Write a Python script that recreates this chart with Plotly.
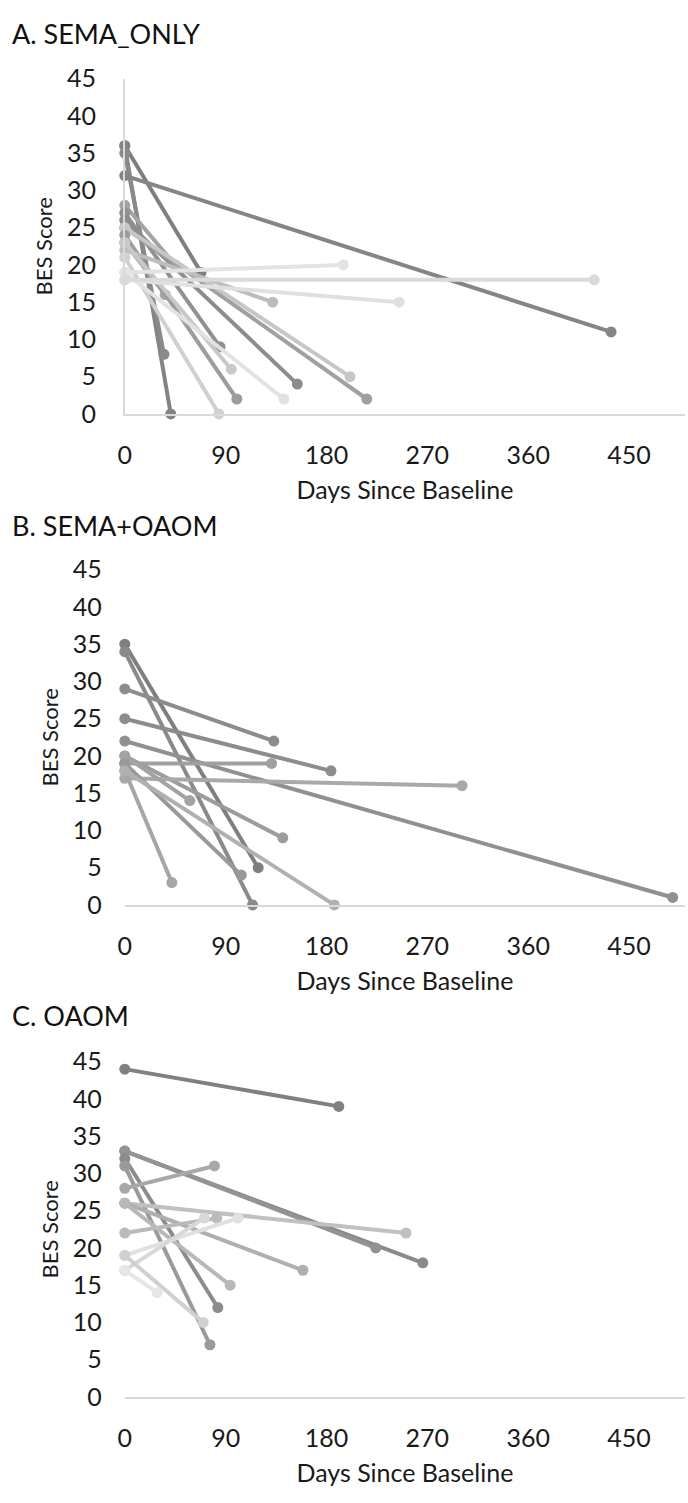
import plotly.graph_objects as go

W, H = 688, 1503

# ---------------- data ----------------
panel_titles = ["A. SEMA_ONLY", "B. SEMA+OAOM", "C. OAOM"]
x_ticks = [0, 90, 180, 270, 360, 450]
y_ticks = [0, 5, 10, 15, 20, 25, 30, 35, 40, 45]

# Panel A: SEMA_ONLY (baseline at day 0 -> follow-up)
A_start_score = [36, 36, 35, 32, 28, 27, 26, 25, 25, 23, 24, 22, 23, 21, 19, 19, 18, 18]
A_end_days    = [68, 41, 35, 434, 45, 85, 154, 216, 201, 36, 100, 132, 95, 84, 142, 195, 245, 419]
A_end_score   = [19, 0, 8, 11, 20, 9, 4, 2, 5, 16, 2, 15, 6, 0, 2, 20, 15, 18]

# Panel B: SEMA+OAOM
B_start_score = [35, 34, 29, 25, 22, 20, 19, 17, 20, 18, 19, 18]
B_end_days    = [119, 114, 133, 184, 489, 141, 131, 301, 58, 42, 104, 187]
B_end_score   = [5, 0, 22, 18, 1, 9, 19, 16, 14, 3, 4, 0]

# Panel C: OAOM
C_start_score = [44, 33, 33, 32, 31, 28, 26, 26, 26, 22, 19, 17, 19, 17]
C_end_days    = [191, 266, 224, 83, 76, 80, 251, 159, 94, 82, 101, 71, 70, 29]
C_end_score   = [39, 18, 20, 12, 7, 31, 22, 17, 15, 24, 24, 24, 10, 14]

# styles (greys of each participant line)
A_shades = ["#7f7f7f", "#838383", "#8a8a8a", "#858585", "#a3a3a3", "#909090", "#8c8c8c",
            "#a0a0a0", "#c6c6c6", "#a8a8a8", "#9c9c9c", "#bdbdbd", "#c8c8c8", "#d0d0d0",
            "#e2e2e2", "#e3e3e3", "#e0e0e0", "#dadada"]
B_shades = ["#7f7f7f", "#8a8a8a", "#8c8c8c", "#8c8c8c", "#909090", "#9c9c9c", "#a0a0a0",
            "#a9a9a9", "#a3a3a3", "#a6a6a6", "#999999", "#b0b0b0"]
C_shades = ["#808080", "#8a8a8a", "#939393", "#8c8c8c", "#9a9a9a", "#a8a8a8", "#c0c0c0",
            "#afafaf", "#b8b8b8", "#bababa", "#e0e0e0", "#d8d8d8", "#d0d0d0", "#e6e6e6"]

panels = [
    (A_start_score, A_end_days, A_end_score, A_shades),
    (B_start_score, B_end_days, B_end_score, B_shades),
    (C_start_score, C_end_days, C_end_score, C_shades),
]

# ---------------- layout geometry (pixels) ----------------
x_left, x_right = 119, 685
zero_px = [406, 907, 1409]
top_px = [64, 565, 1067]
title_px = [18, 520, 1020]

FONT = "Lato"
TXT = "#1a1a1a"
fig = go.Figure()
layout = dict(
    width=W, height=H,
    margin=dict(l=0, r=0, t=0, b=0),
    paper_bgcolor="white", plot_bgcolor="white",
    showlegend=False,
    font=dict(family=FONT, color=TXT),
)
annotations = []

for i, (s_start, d_end, s_end, shades) in enumerate(panels):
    xa = "x" if i == 0 else f"x{i+1}"
    ya = "y" if i == 0 else f"y{i+1}"
    for s0, d1, s1, c in zip(s_start, d_end, s_end, shades):
        fig.add_trace(go.Scatter(
            x=[0, d1], y=[s0, s1], xaxis=xa, yaxis=ya,
            mode="lines+markers",
            line=dict(color=c, width=4),
            marker=dict(color=c, size=11),
            cliponaxis=False, hoverinfo="x+y",
        ))
    xkey = "xaxis" if i == 0 else f"xaxis{i+1}"
    ykey = "yaxis" if i == 0 else f"yaxis{i+1}"
    layout[xkey] = dict(
        domain=[x_left / W, x_right / W], anchor=ya,
        range=[0, 500], tickvals=x_ticks, showgrid=False, zeroline=False,
        showline=True, linecolor="#d9d9d9", linewidth=1.5,
        ticks="", ticklabelstandoff=18,
        tickfont=dict(size=25, family=FONT, color=TXT),
        title=dict(text="Days Since Baseline", standoff=14,
                   font=dict(size=25, family=FONT, color=TXT)),
        fixedrange=True,
    )
    layout[ykey] = dict(
        domain=[1 - zero_px[i] / H, 1 - top_px[i] / H], anchor=xa,
        range=[0, 45], tickvals=y_ticks, showgrid=False, zeroline=False,
        showline=(i == 0), linecolor="#d9d9d9", linewidth=1.5,
        ticks="", ticklabelstandoff=22,
        tickfont=dict(size=25, family=FONT, color=TXT),
        title=dict(text="BES Score", standoff=8,
                   font=dict(size=22, family=FONT, color=TXT)),
        fixedrange=True,
    )
    annotations.append(dict(
        text=panel_titles[i], xref="paper", yref="paper",
        x=3 / W, y=1 - title_px[i] / H, xanchor="left", yanchor="middle",
        showarrow=False, font=dict(size=27, family=FONT, color="#111111"),
    ))

layout["annotations"] = annotations
fig.update_layout(**layout)
fig.write_html("out.html", config={"displayModeBar": False},
               post_script="document.body.style.margin='0';")
